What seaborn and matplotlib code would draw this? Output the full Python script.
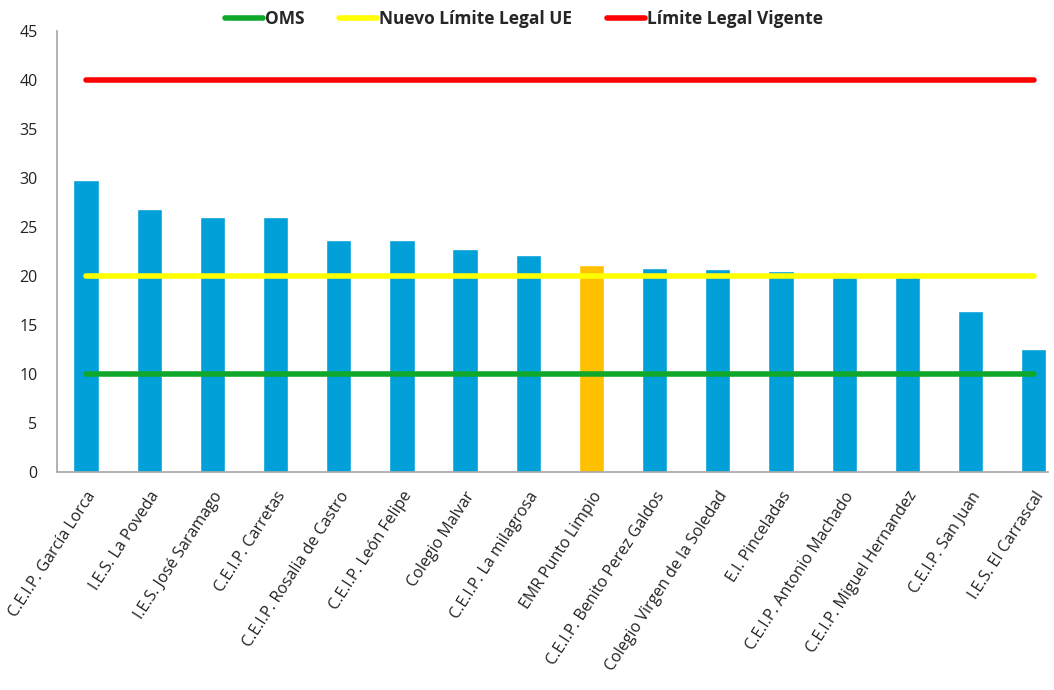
import matplotlib
matplotlib.use("Agg")
import matplotlib.pyplot as plt
import seaborn as sns
import pandas as pd
from matplotlib.lines import Line2D

categories = [
    "C.E.I.P. García Lorca", "I.E.S. La Poveda", "I.E.S. José Saramago",
    "C.E.I.P. Carretas", "C.E.I.P. Rosalia de Castro", "C.E.I.P. León Felipe",
    "Colegio Malvar", "C.E.I.P. La milagrosa", "EMR Punto Limpio",
    "C.E.I.P. Benito Perez Galdos", "Colegio Virgen de la Soledad",
    "E.I. Pinceladas", "C.E.I.P. Antonio Machado", "C.E.I.P. Miguel Hernandez",
    "C.E.I.P. San Juan", "I.E.S. El Carrascal",
]
values = [29.8, 26.8, 26.0, 26.0, 23.7, 23.7, 22.8, 22.1, 21.1,
          20.8, 20.7, 20.5, 19.9, 19.9, 16.4, 12.6]
highlight = "EMR Punto Limpio"

limit_names = ["OMS", "Nuevo Límite Legal UE", "Límite Legal Vigente"]
limit_values = [10, 20, 40]
limit_colors = ["#0FA82A", "#FFFF00", "#FF0000"]

yticks = [0, 5, 10, 15, 20, 25, 30, 35, 40, 45]

sns.set_style("white")
plt.rcParams["font.family"] = ["Open Sans", "DejaVu Sans"]

fig = plt.figure(figsize=(10.54, 6.9), dpi=100)
ax = fig.add_axes([0.054, 0.316, 0.940, 0.639])

df = pd.DataFrame({"cat": categories, "val": values})
palette = {c: ("#FFC000" if c == highlight else "#02A0D8") for c in categories}
sns.barplot(data=df, x="cat", y="val", hue="cat", palette=palette,
            legend=False, width=0.4, ax=ax, saturation=1, zorder=1)

xs = list(range(len(categories)))
handles = []
for name, v, col in zip(limit_names, limit_values, limit_colors):
    ax.plot(xs, [v] * len(xs), color=col, lw=4, solid_capstyle="round", zorder=3)
    handles.append(Line2D([0], [0], color=col, lw=4, solid_capstyle="round", label=name))

ax.set_xlim(-0.46, 15.22)
ax.set_ylim(0, 45)
ax.set_yticks(yticks)
ax.set_xlabel("")
ax.set_ylabel("")
ax.tick_params(axis="y", length=0, labelsize=11.5, colors="#222222", pad=14)
ax.tick_params(axis="x", length=0, labelsize=11.5, colors="#222222", pad=12)
ax.set_xticks(xs)
ax.set_xticklabels(categories, rotation=57, ha="right", rotation_mode="anchor")
for s in ["top", "right"]:
    ax.spines[s].set_visible(False)
for s in ["left", "bottom"]:
    ax.spines[s].set_color("#A6A6A6")
    ax.spines[s].set_linewidth(1.2)

fig.legend(handles=handles, loc="center", bbox_to_anchor=(0.497, 0.972), ncol=3,
           frameon=False, handlelength=2.2, handletextpad=0.1, columnspacing=2.0,
           prop={"weight": "bold", "size": 12.5})

fig.savefig("out.png", dpi=100)
